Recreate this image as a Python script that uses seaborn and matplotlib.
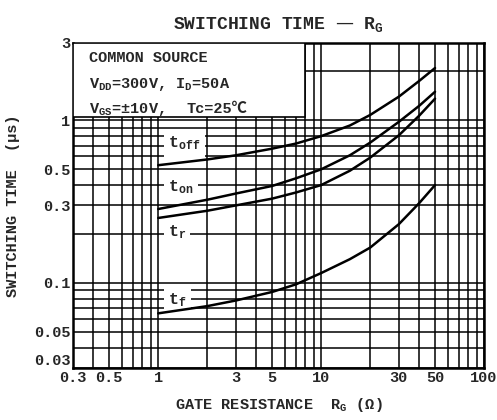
import numpy as np
import pandas as pd
import matplotlib
matplotlib.use("Agg")
import matplotlib.pyplot as plt
import seaborn as sns
from matplotlib.patches import Rectangle

# Data (R_G in ohm, time in us)
rg = [1, 2, 3, 5, 7, 10, 15, 20, 30, 40, 50]
t_off = [0.53, 0.575, 0.61, 0.67, 0.72, 0.80, 0.93, 1.08, 1.40, 1.75, 2.10]
t_on = [0.285, 0.325, 0.355, 0.395, 0.44, 0.50, 0.61, 0.73, 0.98, 1.23, 1.50]
t_r = [0.251, 0.278, 0.30, 0.33, 0.36, 0.40, 0.49, 0.59, 0.81, 1.07, 1.36]
t_f = [0.065, 0.072, 0.078, 0.088, 0.098, 0.115, 0.14, 0.165, 0.23, 0.31, 0.40]
n = len(rg)

x_ticks = [0.3, 0.5, 1, 3, 5, 10, 30, 50, 100]
x_ticklabels = ["0.3", "0.5", "1", "3", "5", "10", "30", "50", "100"]
y_ticks = [0.03, 0.05, 0.1, 0.3, 0.5, 1, 3]
y_ticklabels = ["0.03", "0.05", "0.1", "0.3", "0.5", "1", "3"]

df = pd.DataFrame({
    "rg": rg * 4,
    "time": t_off + t_on + t_r + t_f,
    "curve": ["toff"] * n + ["ton"] * n + ["tr"] * n + ["tf"] * n,
})

sns.set_style("white")
plt.rcParams["font.family"] = ["Liberation Mono", "DejaVu Sans Mono", "DejaVu Sans"]
plt.rcParams["font.weight"] = "bold"
plt.rcParams["mathtext.default"] = "regular"

fig = plt.figure(figsize=(4.97, 4.2), dpi=100)
ax = fig.add_axes([0.147, 0.124, 0.827, 0.774])

sns.lineplot(data=df, x="rg", y="time", units="curve", estimator=None,
             color="black", linewidth=1.8, ax=ax, zorder=5, legend=False)

ax.set_xscale("log")
ax.set_yscale("log")

# grid at every 1-9 step of each decade
x_minor = [m * 10.0 ** e for e in (-1, 0, 1) for m in range(3 if e == -1 else 1, 10)] + [100]
y_minor = [m * 10.0 ** e for e in (-2, -1, 0) for m in range(3 if e == -2 else 1, 10 if e < 0 else 4)]
ax.set_xticks(x_minor, minor=True)
ax.set_yticks(y_minor, minor=True)
ax.set_xticks(x_ticks)
ax.set_xticklabels(x_ticklabels, fontsize=11, fontweight="bold")
ax.set_yticks(y_ticks)
ax.set_yticklabels(y_ticklabels, fontsize=11, fontweight="bold")
ax.get_yticklabels()[0].set_va("bottom")
ax.xaxis.set_minor_formatter(plt.NullFormatter())
ax.yaxis.set_minor_formatter(plt.NullFormatter())
ax.set_xlim(0.3, 100)
ax.set_ylim(0.03, 3)
ax.tick_params(which="both", length=0, pad=2)
ax.grid(True, which="both", color="black", linewidth=1.1)
ax.set_axisbelow(True)
for s in ax.spines.values():
    s.set_linewidth(1.8)
    s.set_color("black")

# condition box (blanks the grid in top-left corner)
ax.add_patch(Rectangle((0, 0.772), 0.565, 0.228, transform=ax.transAxes,
                       facecolor="white", edgecolor="black", linewidth=1.2, zorder=3))
ax.text(0.04, 0.94, "COMMON SOURCE", transform=ax.transAxes, fontsize=11,
        fontweight="bold", va="baseline", zorder=4)
ax.text(0.04, 0.86, "V$_{DD}$=300V, I$_D$=50A", transform=ax.transAxes, fontsize=11,
        fontweight="bold", va="baseline", zorder=4)
ax.text(0.04, 0.785, "V$_{GS}$=±10V,", transform=ax.transAxes, fontsize=11,
        fontweight="bold", va="baseline", zorder=4)
ax.text(0.275, 0.785, "Tc=25℃", transform=ax.transAxes, fontsize=11,
        fontweight="bold", va="baseline", zorder=4,
        family=["Liberation Mono", "Noto Sans CJK JP"])

# curve labels on white patches
box = dict(facecolor="white", edgecolor="none", pad=3)
ax.text(1.15, 0.72, "t$_{off}$", fontsize=12, fontweight="bold", va="center", bbox=box, zorder=4)
ax.text(1.15, 0.39, "t$_{on}$", fontsize=12, fontweight="bold", va="center", bbox=box, zorder=4)
ax.text(1.15, 0.205, "t$_r$", fontsize=12, fontweight="bold", va="center", bbox=box, zorder=4)
ax.text(1.15, 0.078, "t$_f$", fontsize=12, fontweight="bold", va="center", bbox=box, zorder=4)

ax.set_title("SWITCHING TIME — R$_G$", fontsize=13, fontweight="bold", pad=10)
ax.set_xlabel("GATE RESISTANCE  R$_G$ (Ω)", fontsize=11, fontweight="bold", labelpad=8)
ax.set_ylabel("SWITCHING TIME  (μs)", fontsize=11, fontweight="bold", labelpad=10)

fig.savefig("out.png", dpi=100)
